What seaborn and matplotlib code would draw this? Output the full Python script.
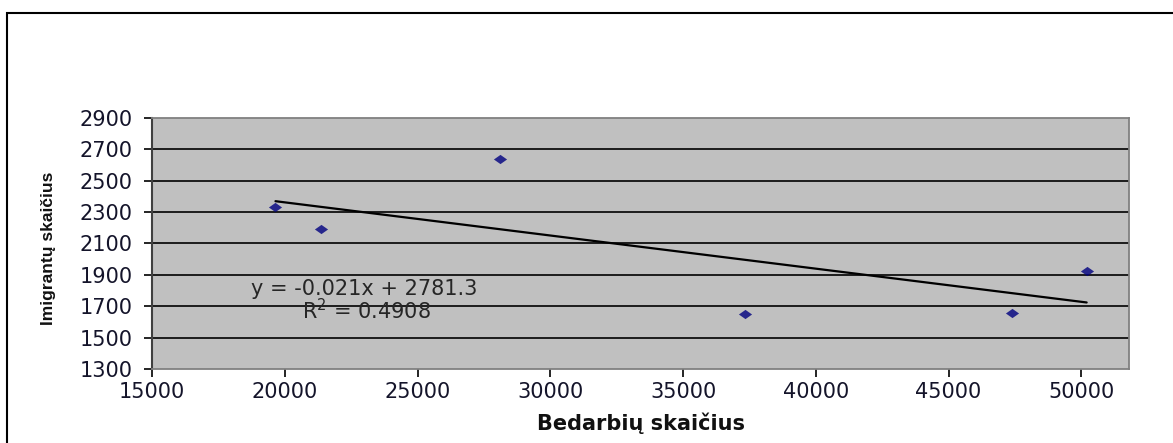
import numpy as np
import pandas as pd
import matplotlib
matplotlib.use('Agg')
import matplotlib.pyplot as plt
import seaborn as sns
from matplotlib.patches import Rectangle

# Data
bedarbiai = [19650, 21350, 28100, 37350, 47400, 50200]
imigrantai = [2335, 2195, 2635, 1650, 1655, 1925]
y_ticks = [1300, 1500, 1700, 1900, 2100, 2300, 2500, 2700, 2900]
x_ticks = [15000, 20000, 25000, 30000, 35000, 40000, 45000, 50000]
eq_text = 'y = -0.021x + 2781.3'
r2_text = 'R$^2$ = 0.4908'

df = pd.DataFrame({'Bedarbių skaičius': bedarbiai, 'Imigrantų skaičius': imigrantai})

sns.set_style('white')
plt.rcParams['font.family'] = ['DejaVu Sans']

fig = plt.figure(figsize=(11.73, 4.43), dpi=100)
ax = fig.add_axes([0.1296, 0.167, 0.833, 0.567])
ax.set_facecolor('#c0c0c0')

# outer chart border (only left and top visible in the crop)
fig.patches.append(Rectangle((0.006, -0.05), 1.1, 1.021, transform=fig.transFigure,
                             fill=False, edgecolor='black', linewidth=1.5))

# flat diamond like the Excel marker
diamond = [(-1, 0), (0, 0.7), (1, 0), (0, -0.7), (-1, 0)]
sns.regplot(data=df, x='Bedarbių skaičius', y='Imigrantų skaičius', ax=ax, ci=None,
            marker=diamond, scatter_kws={'color': '#000080', 's': 90, 'linewidths': 0},
            line_kws={'color': 'black', 'linewidth': 1.6})

ax.set_xlim(15000, 51800)
ax.set_ylim(1300, 2900)
ax.set_xticks(x_ticks)
ax.set_yticks(y_ticks)
for t in y_ticks[1:-1]:
    ax.axhline(t, color='black', linewidth=1.2, zorder=0.5)

ax.tick_params(axis='both', direction='out', length=6, width=1.2, color='black',
               labelsize=15, labelcolor='#14142a', left=True, bottom=True)
ax.tick_params(axis='y', pad=8)
ax.tick_params(axis='x', pad=3)
for s in ['top', 'right', 'bottom']:
    ax.spines[s].set_color('#808080')
    ax.spines[s].set_linewidth(1.3)
ax.spines['left'].set_color('#404040')
ax.spines['left'].set_linewidth(1.5)

ax.text(18720, 1811, eq_text, fontsize=15, color='#262626', va='center')
ax.text(20640, 1671, r2_text, fontsize=15, color='#262626', va='center')

ax.set_xlabel('Bedarbių skaičius', fontsize=15, fontweight='bold', labelpad=8,
              color='#111111')
ax.set_ylabel('Imigrantų skaičius', fontsize=12.5, fontweight='bold',
              family=['Liberation Sans', 'DejaVu Sans'], color='#111111')
ax.yaxis.set_label_coords(-0.098, 0.48)

fig.savefig('out.png', dpi=100)
